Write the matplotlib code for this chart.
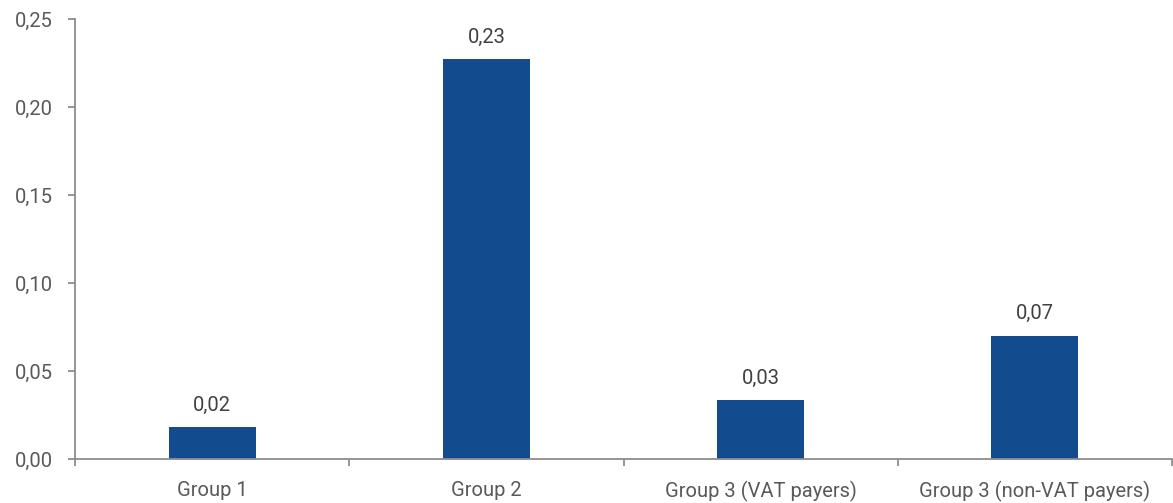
import matplotlib.pyplot as plt
import numpy as np

# Chart data
categories = ['Group 1', 'Group 2', 'Group 3 (VAT payers)', 'Group 3 (non-VAT payers)']
values = [0.018, 0.227, 0.0335, 0.070]
value_labels = ['0,02', '0,23', '0,03', '0,07']
y_ticks = [0.00, 0.05, 0.10, 0.15, 0.20, 0.25]

bar_color = '#124C8F'
axis_color = '#8C8C8C'
text_color = '#595959'

plt.rcParams['font.family'] = ['Roboto', 'DejaVu Sans']

fig = plt.figure(figsize=(11.73, 5.03), dpi=100)
ax = fig.add_axes([75 / 1173, 44 / 503, 1097 / 1173, 440 / 503])

x = np.arange(len(categories))
bars = ax.bar(x, values, width=0.317, color=bar_color, zorder=2)

for xi, v, lab in zip(x, values, value_labels):
    ax.annotate(lab, (xi, v), xytext=(0, 9), textcoords='offset points',
                ha='center', va='bottom', fontsize=14.5, color='#404040')

ax.set_xlim(-0.5, len(categories) - 0.5)
ax.set_ylim(0, 0.25)

ax.set_yticks(y_ticks)
ax.set_yticklabels([f'{t:.2f}'.replace('.', ',') for t in y_ticks])

ax.set_xticks(x)
ax.set_xticklabels(categories)
ax.set_xticks(np.arange(-0.5, len(categories)), minor=True)

for side in ['top', 'right']:
    ax.spines[side].set_visible(False)
for side in ['left', 'bottom']:
    ax.spines[side].set_color(axis_color)
    ax.spines[side].set_linewidth(1.3)

ax.tick_params(axis='y', length=5, width=1.3, color=axis_color, pad=11,
               labelsize=14.5, labelcolor=text_color)
ax.tick_params(axis='x', which='major', length=0, pad=16,
               labelsize=14.5, labelcolor=text_color)
ax.tick_params(axis='x', which='minor', length=5, width=1.3, color=axis_color)

fig.savefig('out.png', dpi=100)
